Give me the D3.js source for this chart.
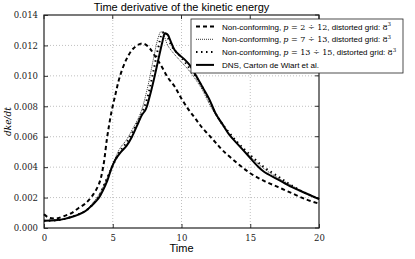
<!DOCTYPE html>
<html>
<head>
<meta charset="utf-8">
<script src="https://cdn.jsdelivr.net/npm/d3@7"></script>
<style>
  body { margin: 0; background: #fff; }
  .grid line { stroke: #b0b0b0; stroke-dasharray: 1,2; stroke-width: 0.8; }
</style>
</head>
<body>
<div id="chart"></div>
<script>
const width = 415;
const height = 259;
const margin = {top: 15, right: 96, bottom: 31, left: 44};

// series data
const tDashed = [0, 0.3, 0.7, 1, 1.5, 2, 2.5, 3, 3.5, 4, 4.3, 4.6, 4.9, 5.2, 5.5, 6, 6.5, 7, 7.3, 7.7, 8, 8.5, 9, 9.5, 10, 10.5, 11, 11.5, 12, 12.5, 13, 14, 15, 16, 17, 18, 19, 20];
const vDashed = [0.0009, 0.0007, 0.00062, 0.00064, 0.0008, 0.00098, 0.0013, 0.0016, 0.0021, 0.0029, 0.0040, 0.0060, 0.0076, 0.0088, 0.0099, 0.0111, 0.0118, 0.0121, 0.0121, 0.0118, 0.0114, 0.0107, 0.0099, 0.0093, 0.0085, 0.0078, 0.0072, 0.0066, 0.0061, 0.0056, 0.0051, 0.0043, 0.0036, 0.0031, 0.0027, 0.0023, 0.0019, 0.0016];

const tFine = [0, 1, 2, 3, 3.5, 4, 4.5, 5, 5.5, 6, 6.5, 7, 7.5, 8, 8.3, 8.5, 8.7, 9, 9.5, 10, 10.5, 11, 11.5, 12, 12.5, 13, 14, 15, 16, 17, 18, 19, 20];
const vFine = [0.00048, 0.00052, 0.00074, 0.00115, 0.0016, 0.0022, 0.0031, 0.0042, 0.0052, 0.0058, 0.0066, 0.0075, 0.0091, 0.0113, 0.0125, 0.0129, 0.0127, 0.0120, 0.0114, 0.0109, 0.0104, 0.0098, 0.0091, 0.0082, 0.0074, 0.0067, 0.0056, 0.0047, 0.0039, 0.0033, 0.0028, 0.0023, 0.0019];

const tSparse = [0, 1, 2, 3, 3.5, 4, 4.5, 5, 5.5, 6, 6.5, 7, 7.5, 8, 8.3, 8.6, 8.8, 9, 9.4, 10, 10.5, 11, 11.5, 12, 12.5, 13, 14, 15, 16, 17, 18, 19, 20];
const vSparse = [0.00048, 0.00052, 0.00073, 0.00112, 0.0015, 0.0021, 0.0031, 0.0041, 0.0050, 0.0056, 0.0064, 0.0073, 0.0085, 0.0105, 0.0118, 0.0128, 0.0129, 0.0125, 0.0118, 0.0112, 0.0106, 0.0100, 0.0093, 0.0084, 0.0075, 0.0068, 0.0057, 0.0048, 0.0040, 0.0034, 0.0028, 0.0023, 0.0019];

const tDns = [0, 0.5, 1, 1.5, 2, 2.5, 3, 3.5, 4, 4.3, 4.6, 4.9, 5.2, 5.6, 6, 6.4, 6.8, 7.1, 7.4, 7.7, 8, 8.3, 8.6, 8.8, 9, 9.2, 9.5, 9.8, 10.2, 10.6, 11, 11.5, 12, 12.5, 13, 13.5, 14, 14.5, 15, 15.5, 16, 17, 18, 19, 20];
const vDns = [0.00048, 0.00049, 0.00052, 0.0006, 0.00072, 0.00088, 0.0011, 0.0015, 0.002, 0.0025, 0.0031, 0.0039, 0.0045, 0.0050, 0.0054, 0.0060, 0.0068, 0.0074, 0.0078, 0.0087, 0.0098, 0.0110, 0.0122, 0.0128, 0.0127, 0.0123, 0.0117, 0.0114, 0.0111, 0.0107, 0.0101, 0.0093, 0.0085, 0.0075, 0.0068, 0.0061, 0.0056, 0.0051, 0.0046, 0.0041, 0.0037, 0.0032, 0.0027, 0.0023, 0.0019];

const xTicks = [0, 5, 10, 15, 20];
const yTicks = [0, 0.002, 0.004, 0.006, 0.008, 0.010, 0.012, 0.014];

const series = [
  {t: tDashed, v: vDashed, dash: '4,3', w: 2, color: '#000', label: ['Non-conforming, ', 'p', ' = 2 ÷ 12', ', distorted grid: ', '8', '3']},
  {t: tFine, v: vFine, dash: '1,1', w: 1, color: '#333', label: ['Non-conforming, ', 'p', ' = 7 ÷ 13', ', distorted grid: ', '8', '3']},
  {t: tSparse, v: vSparse, dash: '1.5,3.5', w: 2, color: '#000', label: ['Non-conforming, ', 'p', ' = 13 ÷ 15', ', distorted grid: ', '8', '3']},
  {t: tDns, v: vDns, dash: null, w: 2, color: '#000', label: ['DNS, Carton de Wiart et al.']}
];

const serif = '"DejaVu Serif", "Liberation Serif", serif';
const sans = '"Liberation Sans", Arial, sans-serif';

const svg = d3.select('#chart').append('svg')
  .attr('width', width)
  .attr('height', height);

const x = d3.scaleLinear().domain([0, 20]).range([margin.left, width - margin.right]);
const y = d3.scaleLinear().domain([0, 0.014]).range([height - margin.bottom, margin.top]);

//grid
svg.append('g').attr('class', 'grid')
  .selectAll('line').data(xTicks.slice(1, -1)).enter().append('line')
  .attr('x1', d => x(d)).attr('x2', d => x(d))
  .attr('y1', y(0)).attr('y2', y(0.014));
svg.append('g').attr('class', 'grid')
  .selectAll('line').data(yTicks.slice(1, -1)).enter().append('line')
  .attr('x1', x(0)).attr('x2', x(20))
  .attr('y1', d => y(d)).attr('y2', d => y(d));

//axes
svg.append('g')
  .attr('transform', 'translate(0,' + y(0) + ')')
  .call(d3.axisBottom(x).tickValues(xTicks).tickFormat(d3.format('d')).tickSizeInner(-4).tickSizeOuter(0).tickPadding(7));
svg.append('g')
  .attr('transform', 'translate(' + x(0) + ',0)')
  .call(d3.axisLeft(y).tickValues(yTicks).tickFormat(d3.format('.3f')).tickSizeInner(-4).tickSizeOuter(0).tickPadding(6));
svg.selectAll('.domain').remove();
svg.selectAll('.tick line').attr('stroke', '#000').attr('stroke-width', 0.8);
svg.selectAll('.tick text')
  .attr('font-family', serif).attr('font-size', 8.5).attr('fill', '#222')
  .style('font-family', serif).style('font-size', '8.5px');

//top/right ticks
svg.append('g').selectAll('line').data(xTicks).enter().append('line')
  .attr('x1', d => x(d)).attr('x2', d => x(d))
  .attr('y1', y(0.014)).attr('y2', y(0.014) + 4).attr('stroke', '#000').attr('stroke-width', 0.8);
svg.append('g').selectAll('line').data(yTicks).enter().append('line')
  .attr('x1', x(20) - 4).attr('x2', x(20))
  .attr('y1', d => y(d)).attr('y2', d => y(d)).attr('stroke', '#000').attr('stroke-width', 0.8);

//frame
svg.append('rect')
  .attr('x', x(0)).attr('y', y(0.014))
  .attr('width', x(20) - x(0)).attr('height', y(0) - y(0.014))
  .attr('fill', 'none').attr('stroke', '#222').attr('stroke-width', 1.2);

//lines
const line = d3.line().curve(d3.curveCatmullRom.alpha(0.5));
series.forEach(s => {
  const pts = s.t.map((t, i) => [x(t), y(s.v[i])]);
  svg.append('path')
    .attr('d', line(pts))
    .attr('fill', 'none')
    .attr('stroke', s.color)
    .attr('stroke-width', s.w)
    .attr('stroke-dasharray', s.dash);
});

//title and labels
svg.append('text')
  .attr('x', (x(0) + x(20)) / 2).attr('y', 11)
  .attr('text-anchor', 'middle')
  .style('font-family', sans).style('font-size', '11px')
  .text('Time derivative of the kinetic energy');
svg.append('text')
  .attr('x', (x(0) + x(20)) / 2).attr('y', 252)
  .attr('text-anchor', 'middle')
  .style('font-family', sans).style('font-size', '11px')
  .text('Time');
svg.append('text')
  .attr('transform', 'translate(11,' + ((y(0) + y(0.014)) / 2) + ') rotate(-90)')
  .attr('text-anchor', 'middle')
  .style('font-family', serif).style('font-style', 'italic').style('font-size', '9px')
  .text('dke/dt');

//legend
const lg = svg.append('g').attr('transform', 'translate(191,19)');
lg.append('rect')
  .attr('width', 212).attr('height', 54)
  .attr('fill', '#fff').attr('stroke', '#222').attr('stroke-width', 0.8);
series.forEach((s, i) => {
  const ry = 7.5 + i * 12.8;
  lg.append('line')
    .attr('x1', 5).attr('x2', 23).attr('y1', ry).attr('y2', ry)
    .attr('stroke', s.color).attr('stroke-width', s.w)
    .attr('stroke-dasharray', s.dash);
  const t = lg.append('text')
    .attr('x', 31).attr('y', ry + 3)
    .style('font-family', sans).style('font-size', '8px');
  s.label.forEach((part, j) => {
    const ts = t.append('tspan').text(part);
    if (j === 1) ts.style('font-family', serif).style('font-style', 'italic');
    if (j === 2 || j === 4) ts.style('font-family', serif);
    if (j === 5) ts.style('font-family', serif).style('font-size', '5.5px').attr('dy', -3.5);
  });
});
</script>
</body>
</html>
